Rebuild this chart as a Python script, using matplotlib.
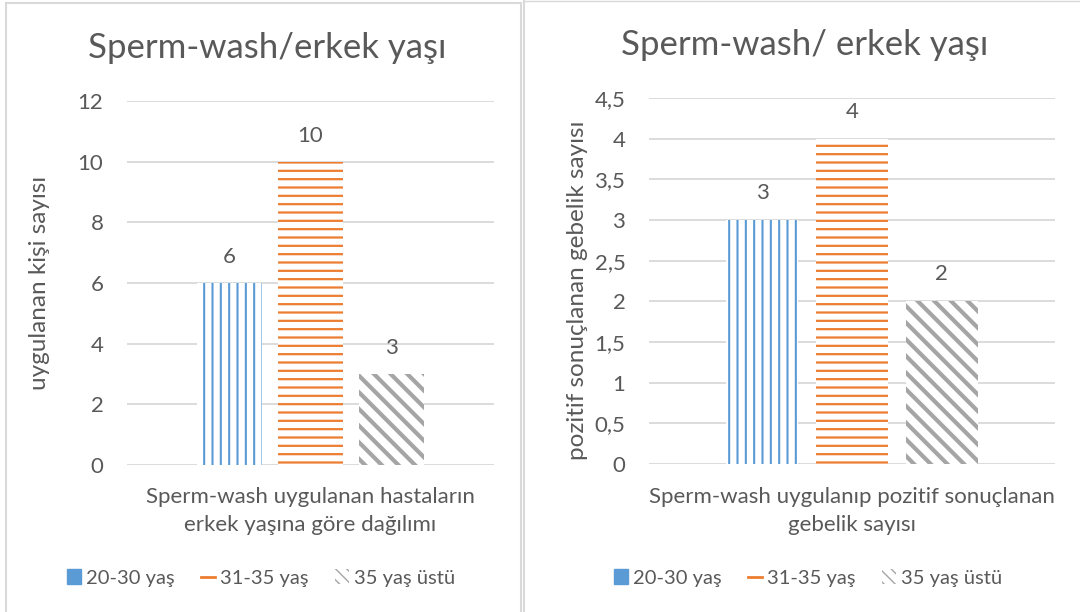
import matplotlib
matplotlib.use("Agg")
import matplotlib.pyplot as plt
import matplotlib.transforms as mtransforms
from matplotlib.patches import Patch
from matplotlib.lines import Line2D
from matplotlib.ticker import FuncFormatter, MultipleLocator

plt.rcParams['font.family'] = ['Lato', 'DejaVu Sans']

series = ["20-30 yaş", "31-35 yaş", "35 yaş üstü"]
left_values = [6, 10, 3]
right_values = [3, 4, 2]
left_title = "Sperm-wash/erkek yaşı"
right_title = "Sperm-wash/ erkek yaşı"
left_ylabel = "uygulanan kişi sayısı"
right_ylabel = "pozitif sonuçlanan gebelik sayısı"
left_xlabel = "Sperm-wash uygulanan hastaların\nerkek yaşına göre dağılımı"
right_xlabel = "Sperm-wash uygulanıp pozitif sonuçlanan\ngebelik sayısı"

colors = ["#5B9BD5", "#ED7D31", "#A5A5A5"]
hatches = ["||", "--", "\\\\"]
hatch_lw = [1.5, 1.6, 3.0]
TXT = "#595959"
GRID = "#D9D9D9"

W, H = 1080, 612
fig = plt.figure(figsize=(W / 100, H / 100), dpi=100)

def fx(x):
    return x / W

def fy(y):
    return 1 - y / H

# chart borders
fig.add_artist(Line2D([fx(6), fx(6)], [fy(3), 0], color=GRID, lw=1.5))
fig.add_artist(Line2D([fx(6), fx(521)], [fy(3), fy(3)], color=GRID, lw=1.5))
fig.add_artist(Line2D([fx(521), fx(521)], [fy(3), 0], color=GRID, lw=1.5))
fig.add_artist(Line2D([fx(524), fx(524)], [fy(1), 0], color=GRID, lw=1.5))
fig.add_artist(Line2D([fx(524), 1], [fy(1), fy(1)], color=GRID, lw=1.0))


def fmt(v, pos):
    return ("%g" % v).replace(".", ",")


def make_chart(rect, values, ymax, ystep, title, title_xy, ylabel, ylabel_xy,
               xlabel, xlabel_xy, legend_xy, label_off):
    ax = fig.add_axes(rect)
    x = [0, 1, 2]
    off = mtransforms.ScaledTranslation(0, label_off / 100, fig.dpi_scale_trans)
    for i, v in enumerate(values):
        b = ax.bar(x[i], v, width=0.8, facecolor="white", edgecolor=colors[i],
                   hatch=hatches[i], linewidth=0, zorder=3)
        for p in b:
            try:
                p.set_hatch_linewidth(hatch_lw[i])
            except Exception:
                pass
        ax.text(x[i], v, "%g" % v, ha="center", va="center", color=TXT,
                fontsize=16, transform=ax.transData + off)
    ax.set_xlim(-1.26, 3.26)
    ax.set_ylim(0, ymax)
    ax.yaxis.set_major_locator(MultipleLocator(ystep))
    ax.yaxis.set_major_formatter(FuncFormatter(fmt))
    ax.grid(axis="y", color=GRID, lw=1.3, zorder=0)
    ax.set_axisbelow(True)
    for s in ax.spines.values():
        s.set_visible(False)
    ax.tick_params(axis="y", length=0, pad=17, labelsize=16, labelcolor=TXT)
    ax.tick_params(axis="x", length=0, labelbottom=False)
    ax.set_xticks([])
    fig.text(fx(title_xy[0]), fy(title_xy[1]), title, ha="center", va="center",
             fontsize=25, color=TXT)
    fig.text(fx(ylabel_xy[0]), fy(ylabel_xy[1]), ylabel, ha="center", va="center",
             rotation=90, fontsize=17.5, color=TXT)
    fig.text(fx(xlabel_xy[0]), fy(xlabel_xy[1]), xlabel, ha="center", va="center",
             fontsize=16, color=TXT, linespacing=1.5)
    handles = [
        Patch(facecolor=colors[0], edgecolor=colors[0]),
        Line2D([0], [0], color=colors[1], lw=2),
        Patch(facecolor="white", edgecolor=colors[2], hatch="\\\\\\", linewidth=0),
    ]
    fig.legend(handles, series, loc="center",
               bbox_to_anchor=(fx(legend_xy[0]), fy(legend_xy[1])),
               ncol=3, frameon=False, fontsize=14.5, labelcolor=TXT,
               handlelength=0.7, handleheight=0.7, handletextpad=0.25,
               columnspacing=1.3)
    return ax

make_chart([fx(127), fy(465), fx(494) - fx(127), fy(101) - fy(465)], left_values, 12, 2,
           left_title, (267, 48), left_ylabel, (40, 283), left_xlabel, (310, 511),
           (261, 578), 26)
make_chart([fx(649), fy(464), fx(1055) - fx(649), fy(98) - fy(464)], right_values, 4.5, 0.5,
           right_title, (805, 45), right_ylabel, (578, 290), right_xlabel, (852, 511),
           (808, 578), 27)

fig.savefig("out.png", dpi=100, facecolor="white")
